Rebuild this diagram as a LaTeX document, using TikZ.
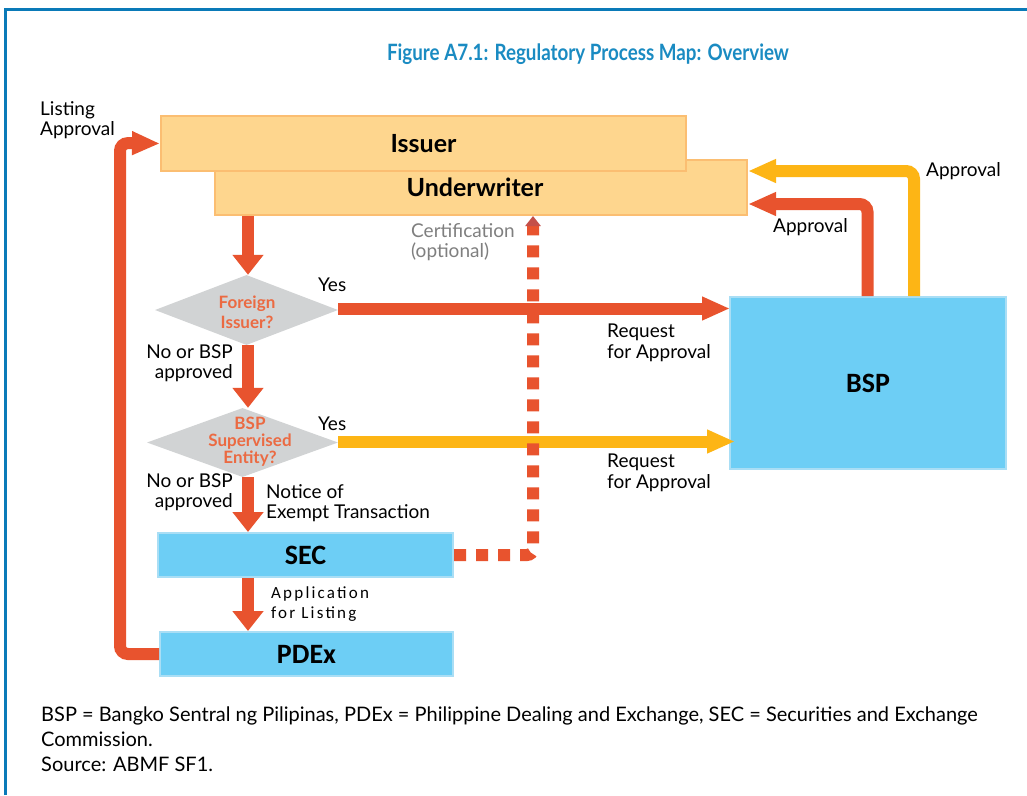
\documentclass[tikz,border=0pt]{standalone}
\usepackage{fontspec}
\setmainfont{Lato}
\newfontfamily\calib{Carlito}
\newfontfamily\calibsp[LetterSpace=13]{Carlito}
\usetikzlibrary{arrows.meta,shapes.geometric}
\definecolor{ored}{HTML}{E8532E}
\definecolor{oyel}{HTML}{FDB515}
\definecolor{ofill}{HTML}{FED68E}
\definecolor{oborder}{HTML}{FBBE72}
\definecolor{bfill}{HTML}{6DCEF5}
\definecolor{bborder}{HTML}{A9DEF5}
\definecolor{dgray}{HTML}{D1D3D4}
\definecolor{dtext}{HTML}{EB6A42}
\definecolor{ttl}{HTML}{1A8BC2}
\definecolor{frameblue}{HTML}{0A7AB8}
\definecolor{cdark}{HTML}{C44F49}
\definecolor{certgray}{HTML}{7F7F7F}
\tikzset{
  obox/.style={draw=oborder, line width=2pt, fill=ofill, inner sep=0pt, font=\fontsize{25}{28}\selectfont\bfseries},
  bbox/.style={draw=bborder, line width=2pt, fill=bfill, inner sep=0pt, font=\calib\fontsize{28}{30}\selectfont\bfseries},
  dia/.style={diamond, fill=dgray, inner sep=0pt, aspect=2.6},
  diatext/.style={text=dtext, align=center, inner sep=0pt, font=\bfseries},
  txt/.style={inner sep=0pt, font=\fontsize{19}{20.5}\selectfont},
  vhead/.style={-{Triangle[length=20pt,width=30pt]}},
  hhead/.style={-{Triangle[length=28pt,width=22pt]}},
  rline/.style={draw=ored, line width=12pt},
  yline/.style={draw=oyel, line width=12pt},
}
\begin{document}
\begin{tikzpicture}[x=1pt,y=-1pt]
\useasboundingbox (0,0) rectangle (1027,795);
\fill[white] (0,0) rectangle (1027,795);
\draw[frameblue, line width=3pt] (5,795) -- (5,9) -- (1027,9);
\node[text=ttl, inner sep=0pt, font=\fontsize{22.5}{26}\selectfont\bfseries] (title) at (588,54) {\scalebox{0.835}[1]{Figure A7.1: Regulatory Process Map: Overview}};

% column coordinates
\coordinate (col) at (248,0);
\coordinate (dc) at (533,0);
\coordinate (ra) at (867.5,204);
\coordinate (ya) at (914,171);
\coordinate (lp) at (120,143);

% boxes
\node[obox, minimum width=532pt, minimum height=55pt] (uw) at (481,187.5) {\hspace*{-12pt}Underwriter};
\node[obox, minimum width=525pt, minimum height=55pt] (iss) at (423.5,143.5) {Issuer};
\node[bbox, minimum width=295pt, minimum height=44pt] (sec) at (305.5,555) {SEC};
\node[bbox, minimum width=293pt, minimum height=44pt] (pdex) at (306.5,654) {PDEx};
\node[bbox, minimum width=276pt, minimum height=172pt] (bsp) at (868,383) {BSP};

% diamonds
\node[dia, minimum width=183pt, minimum height=70pt] (d1) at (246.5,310) {};
\node[diatext, font=\fontsize{17}{20}\selectfont\bfseries] (d1t) at (247,312) {Foreign\\Issuer?};
\node[dia, minimum width=191pt, minimum height=69pt] (d2) at (242.5,442.5) {};
\node[diatext, font=\fontsize{17}{17}\selectfont\bfseries] (d2t) at (250,442) {BSP\\Supervised\\Entity?};

% vertical arrows
\draw[rline, vhead] (uw.south -| col) -- (d1.north -| col);
\draw[rline, vhead] (d1.south -| col) -- (d2.north -| col);
\draw[rline, vhead] (d2.south -| col) -- (sec.north -| col);
\draw[rline, vhead] (sec.south -| col) -- (pdex.north -| col);

% horizontal requests
\draw[rline, hhead, shorten >=-1pt] ([yshift=1.5pt]d1.east) -- ([yshift=1.5pt]d1.east -| bsp.west);
\draw[yline, hhead, shorten >=-6pt] ([yshift=1pt]d2.east) -- ([yshift=1pt]d2.east -| bsp.west);

% approvals
\draw[rline, hhead, rounded corners=8pt] (bsp.north -| ra) -- (ra) -- (ra -| uw.east);
\draw[yline, hhead, rounded corners=8pt] (bsp.north -| ya) -- (ya) -- (ya -| uw.east);

% listing approval loop
\draw[rline, hhead, rounded corners=8pt] (pdex.west) -| (lp) -- (iss.west);

% certification (dotted)
\draw[draw=ored, line width=12pt, dash pattern=on 12pt off 10pt, rounded corners=6pt,
      -{Triangle[length=10pt,width=15pt,color=cdark]}] (sec.east) -| (uw.south -| dc);

% labels
\node[txt, anchor=west, align=left] (l1) at (40,120) {Listing\\Approval};
\node[txt, anchor=west] (yes1) at (318,285) {Yes};
\node[txt, anchor=west] (yes2) at (318,424) {Yes};
\node[txt, anchor=west, align=left, text=certgray] (cert) at (411,242) {Certification\\(optional)};
\node[txt, anchor=west] (ap1) at (926,171) {Approval};
\node[txt, anchor=west] (ap2) at (773,227) {Approval};
\node[txt, anchor=west, align=left] (rq1) at (607,343) {Request\\for Approval};
\node[txt, anchor=west, align=left] (rq2) at (607,473) {Request\\for Approval};
\node[txt, anchor=east, align=right] (no1) at (233,363) {No or BSP\\approved};
\node[txt, anchor=east, align=right] (no2) at (233,492) {No or BSP\\approved};
\node[txt, anchor=west, align=left] (nt) at (266,503) {Notice of\\Exempt Transaction};
\node[inner sep=0pt, anchor=west, align=left, font=\calibsp\fontsize{17}{19.5}\selectfont] (app) at (271,604) {Application\\for Listing};
\node[inner sep=0pt, anchor=west, align=left, font=\fontsize{20}{25}\selectfont] (foot) at (41,739) {BSP = Bangko Sentral ng Pilipinas, PDEx = Philippine Dealing and Exchange, SEC = Securities and Exchange\\Commission.\\Source: ABMF SF1.};
\end{tikzpicture}
\end{document}
